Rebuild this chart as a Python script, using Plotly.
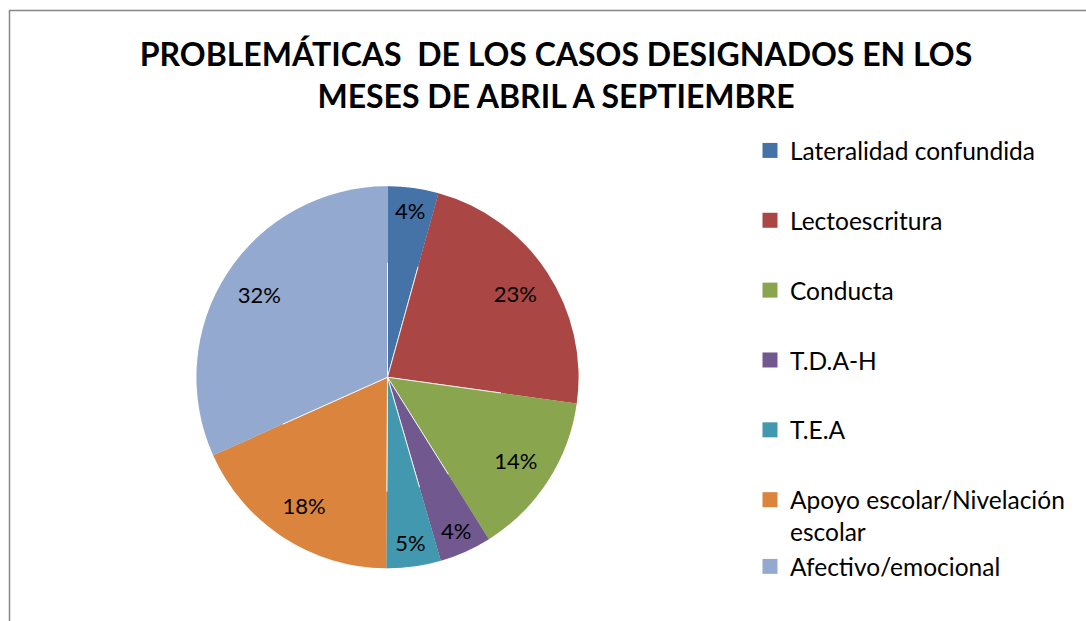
import plotly.graph_objects as go

categories = ["Lateralidad confundida", "Lectoescritura", "Conducta", "T.D.A-H", "T.E.A",
              "Apoyo escolar/Nivelación escolar", "Afectivo/emocional"]
legend_labels = ["Lateralidad confundida", "Lectoescritura", "Conducta", "T.D.A-H", "T.E.A",
                 "Apoyo escolar/Nivelación<br>escolar", "Afectivo/emocional"]
values = [4.3, 22.9, 13.9, 4.4, 4.6, 18.2, 31.7]
colors = ["#4572A7", "#AA4643", "#89A54E", "#71588F", "#4198AF", "#DB843D", "#93A9CF"]
legend_groups = ["g1", "g2", "g3", "g4", "g5", "g6", "g6"]

W, H = 1086, 621
FONT = "Lato"
pie_domain = dict(x=[(387.5 - 191) / W, (387.5 + 191) / W], y=[1 - 568.5 / H, 1 - 186 / H])

fig = go.Figure()
# full pie (slices)
fig.add_trace(go.Pie(
    labels=categories, values=values, sort=False, direction="clockwise", rotation=0,
    marker=dict(colors=colors, line=dict(color="white", width=0.8)),
    textinfo="none", showlegend=False, domain=pie_domain,
))
# same slices as a ring on top, carrying the percentage labels near the rim
fig.add_trace(go.Pie(
    labels=categories, values=values, sort=False, direction="clockwise", rotation=0, hole=0.6,
    marker=dict(colors=colors, line=dict(color="rgba(255,255,255,0)", width=0)),
    textinfo="percent", texttemplate="%{percent:.0%}", textposition="inside",
    insidetextorientation="horizontal",
    textfont=dict(family=FONT, size=22, color="black"),
    showlegend=False, domain=pie_domain, hoverinfo="skip",
))
for lab, col, grp in zip(legend_labels, colors, legend_groups):
    fig.add_trace(go.Scatter(x=[None], y=[None], mode="markers", name=lab, legendgroup=grp,
                             marker=dict(symbol="square", size=15, color=col), hoverinfo="skip"))

fig.update_layout(
    width=W, height=H, margin=dict(l=0, r=0, t=0, b=0),
    paper_bgcolor="white", plot_bgcolor="white",
    xaxis=dict(visible=False), yaxis=dict(visible=False),
    title=dict(text="PROBLEMÁTICAS  DE LOS CASOS DESIGNADOS EN LOS<br>MESES DE ABRIL A SEPTIEMBRE",
               x=556 / W, xanchor="center", y=1 - 66 / H, yanchor="top",
               font=dict(family=FONT, size=32, color="black", weight="bold")),
    legend=dict(x=750 / W, xanchor="left", y=1 - 128 / H, yanchor="top",
                font=dict(family=FONT, size=24.5, color="black"),
                traceorder="grouped", tracegroupgap=35, valign="top",
                bgcolor="rgba(0,0,0,0)", itemclick=False, itemdoubleclick=False),
    uniformtext=dict(minsize=22, mode="show"),
    shapes=[dict(type="rect", xref="paper", yref="paper", x0=9.5 / W, x1=1.1, y0=-0.1, y1=1 - 10.5 / H,
                 line=dict(color="#868686", width=1.5), fillcolor="rgba(0,0,0,0)", layer="below")],
)
fig.write_html("out.html", config={"displayModeBar": False},
               post_script="document.body.style.margin='0';")
